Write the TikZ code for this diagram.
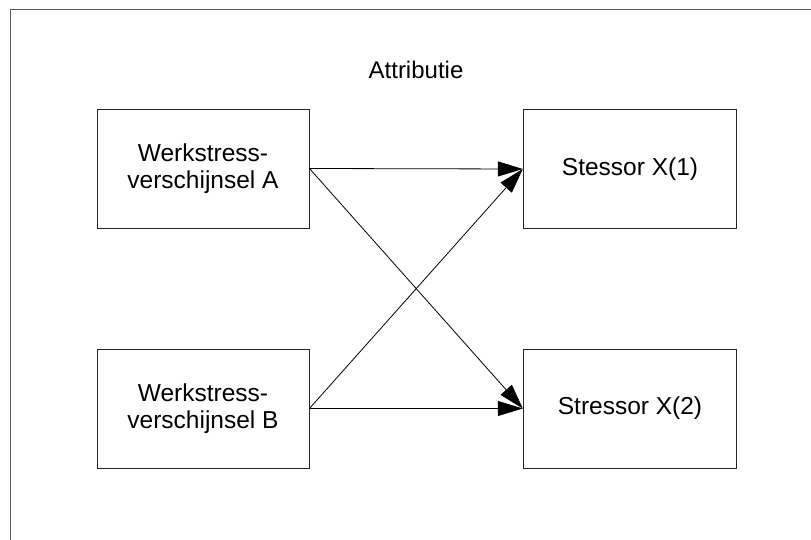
\documentclass[tikz,border=0pt]{standalone}
\usepackage{fontspec}
\setmainfont{Liberation Sans}
\usetikzlibrary{arrows.meta}
\begin{document}
\begin{tikzpicture}[x=1pt,y=-1pt,
  box/.style={draw=black!85,line width=0.9pt,rectangle,minimum width=212pt,minimum height=119pt,inner sep=0pt,align=center,font=\fontsize{24.5}{27.5}\selectfont},
  conn/.style={draw=black,line width=0.8pt,-{Triangle[length=25pt,width=15pt]}},
  lbl/.style={font=\fontsize{24}{27}\selectfont,inner sep=0pt}]
\useasboundingbox (0,0) rectangle (811,540);
\draw[draw=black!65,line width=1.6pt] (10.5,560) -- (10.5,9.5) -- (830,9.5);
\node[lbl] (title) at (416,70) {Attributie};
\node[box] (A) at (203,168.5) {Werkstress-\\verschijnsel A};
\node[box] (B) at (203,408.5) {Werkstress-\\verschijnsel B};
\node[box,minimum width=213.5pt] (X1) at (630,169) {Stessor X(1)};
\node[box,minimum width=213.5pt] (X2) at (630,408.5) {Stressor X(2)};
\draw[conn] (A.east) -- (X1.west);
\draw[conn] (A.east) -- (X2.west);
\draw[conn] (B.east) -- (X1.west);
\draw[conn] (B.east) -- (X2.west);
\end{tikzpicture}
\end{document}
